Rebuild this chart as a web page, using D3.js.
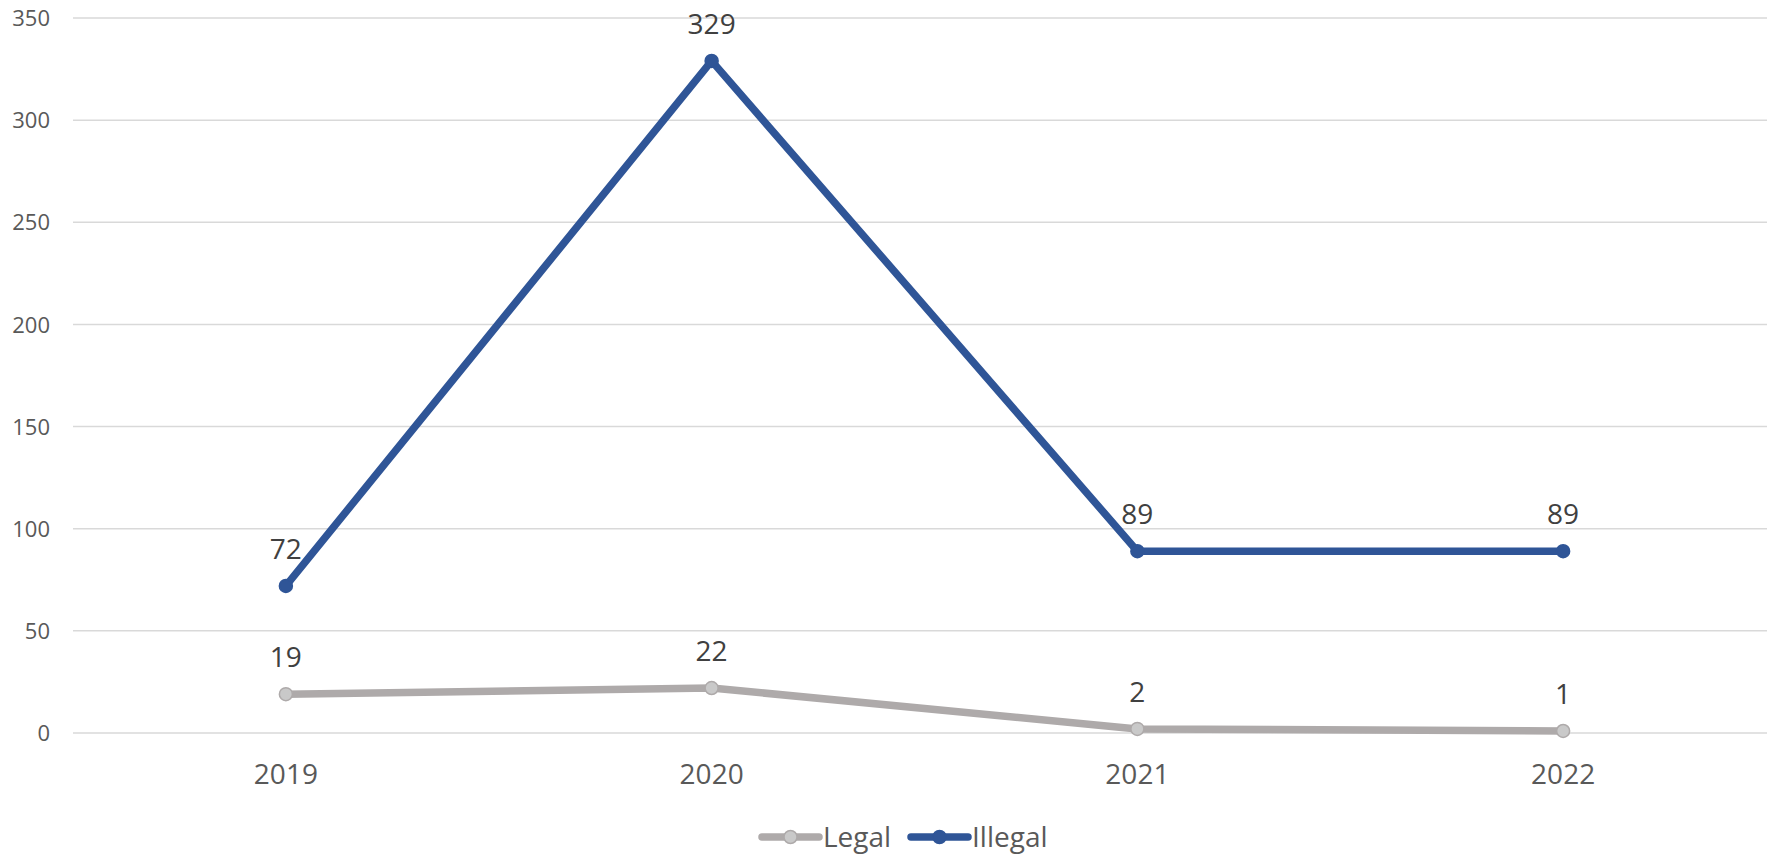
<!DOCTYPE html>
<html>
<head>
<meta charset="utf-8">
<script src="https://cdn.jsdelivr.net/npm/d3@7"></script>
<style>
  html, body { margin: 0; padding: 0; background: #fff; }
  svg { display: block; }
  text { font-family: "Open Sans", "Noto Sans", sans-serif; }
</style>
</head>
<body>
<svg id="chart" width="1767" height="857"></svg>
<script>
const categories = ["2019", "2020", "2021", "2022"];
const legalValues = [19, 22, 2, 1];
const illegalValues = [72, 329, 89, 89];
const yTicks = [0, 50, 100, 150, 200, 250, 300, 350];
const seriesNames = ["Legal", "Illegal"];

const W = 1767, H = 857;
const margin = { left: 73, right: -9, top: 18, bottom: 124 };
const svg = d3.select("#chart");

const x = d3.scaleBand().domain(categories).range([margin.left, W - margin.right]).padding(0);
const y = d3.scaleLinear().domain([0, 350]).range([H - margin.bottom, margin.top]);
const cx = d => x(d) + x.bandwidth() / 2;

// gridlines
svg.append("g").selectAll("line").data(yTicks).join("line")
  .attr("x1", margin.left).attr("x2", W - margin.right)
  .attr("y1", d => y(d)).attr("y2", d => y(d))
  .attr("stroke", "#D9D9D9").attr("stroke-width", 1.5);

// y axis labels
const yAxis = d3.axisLeft(y).tickValues(yTicks).tickSize(0).tickPadding(0);
const yg = svg.append("g").attr("transform", `translate(50,0)`).call(yAxis);
yg.select(".domain").remove();
yg.selectAll("text").attr("font-size", 22).attr("fill", "#595959")
  .attr("font-family", "'Open Sans', sans-serif").attr("dy", "0.35em");

// x axis labels
const xAxis = d3.axisBottom(x).tickSize(0).tickPadding(0);
const xg = svg.append("g").attr("transform", `translate(0,${y(0)})`).call(xAxis);
xg.select(".domain").remove();
xg.selectAll("text").attr("font-size", 28).attr("fill", "#595959")
  .attr("font-family", "'Open Sans', sans-serif").attr("dy", null).attr("y", 51);

const series = [
  { name: seriesNames[0], values: legalValues, line: "#AEAAAA", fill: "#C9C9C9", stroke: "#AEAAAA" },
  { name: seriesNames[1], values: illegalValues, line: "#2F5597", fill: "#2F5597", stroke: "#2F5597" }
];

const lineGen = d3.line().x(d => cx(d.cat)).y(d => y(d.v));

series.forEach(s => {
  const pts = categories.map((c, i) => ({ cat: c, v: s.values[i] }));
  svg.append("path").datum(pts)
    .attr("d", lineGen).attr("fill", "none")
    .attr("stroke", s.line).attr("stroke-width", 7.5)
    .attr("stroke-linejoin", "round").attr("stroke-linecap", "round");
  svg.append("g").selectAll("circle").data(pts).join("circle")
    .attr("cx", d => cx(d.cat)).attr("cy", d => y(d.v)).attr("r", 6.5)
    .attr("fill", s.fill).attr("stroke", s.stroke).attr("stroke-width", 1.5);
  svg.append("g").selectAll("text").data(pts).join("text")
    .attr("x", d => cx(d.cat)).attr("y", d => y(d.v) - 27)
    .attr("text-anchor", "middle").attr("font-size", 28).attr("fill", "#404040")
    .text(d => d.v);
});

// legend
const legendItems = [
  { s: series[0], x0: 762 },
  { s: series[1], x0: 911 }
];
const ly = 837;
legendItems.forEach(it => {
  const g = svg.append("g");
  g.append("line").attr("x1", it.x0).attr("x2", it.x0 + 57).attr("y1", ly).attr("y2", ly)
    .attr("stroke", it.s.line).attr("stroke-width", 7.5).attr("stroke-linecap", "round");
  g.append("circle").attr("cx", it.x0 + 28.5).attr("cy", ly).attr("r", 6.5)
    .attr("fill", it.s.fill).attr("stroke", it.s.stroke).attr("stroke-width", 1.5);
  g.append("text").attr("x", it.x0 + 61).attr("y", ly + 10)
    .attr("font-size", 28).attr("fill", "#595959").text(it.s.name);
});
</script>
</body>
</html>
